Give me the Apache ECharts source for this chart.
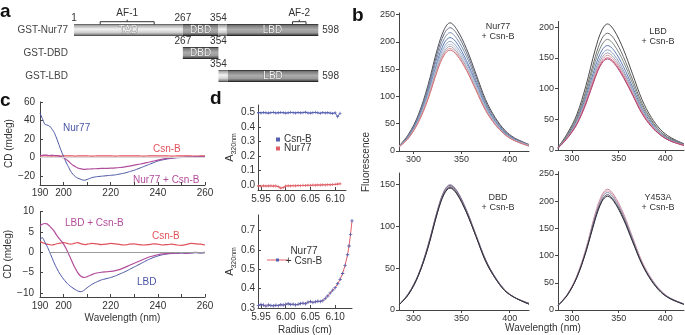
<!DOCTYPE html>
<html><head><meta charset="utf-8">
<script src="https://cdn.jsdelivr.net/npm/echarts@6/dist/echarts.min.js"></script>
<style>html,body{margin:0;padding:0;background:#fff}#c{width:685px;height:335px}</style>
</head><body><div id="c"></div><script>
// ---------------- DATA ----------------
// panel a : constructs
const constructNames = ['GST-Nur77', 'GST-DBD', 'GST-LBD'];
// [start, row, end, kind, label]
const domainSegments = [
  [1, 0, 267, 'light', 'TAD'],
  [267, 0, 354, 'dark', 'DBD'],
  [354, 0, 374, 'light', ''],
  [374, 0, 598, 'dark', 'LBD'],
  [267, 1, 354, 'dark', 'DBD'],
  [354, 2, 377, 'light', ''],
  [377, 2, 598, 'dark', 'LBD']
];
// [residue, row, side(0 above,1 right)]
const residueMarks = [[1,0,0],[267,0,0],[354,0,0],[598,0,1],[267,1,0],[354,1,0],[354,2,0],[598,2,1]];
const afNames = ['AF-1', 'AF-2'];
const afRegions = [[65, 0, 197], [535, 0, 568]];

// panel b : fluorescence spectra
const bWave = [285,295,305,315,325,332,338,345,355,365,375,385,395,405,420];
const nurCsnCurves = [
  [9,31,66,120,188,223,235,223,188,141,94,61,38,24,12],
  [9,29,63,115,181,215,226,215,181,136,90,59,36,23,11],
  [9,28,61,111,174,206,217,206,174,130,87,56,35,22,11],
  [8,27,58,106,166,198,208,198,166,125,83,54,33,21,10],
  [8,26,56,103,161,191,201,191,161,121,80,52,32,20,10],
  [8,25,55,100,157,186,196,186,157,118,78,51,31,20,10],
  [8,25,54,98,154,182,192,182,154,115,77,50,31,19,10],
  [8,24,53,96,150,179,188,179,150,113,75,49,30,19,9],
  [7,24,52,94,148,176,185,176,148,111,74,48,30,19,9]
];
const nurCsnColors = ['#4b4b55','#686d80','#7889a6','#5d7db6','#8fa6cb','#bac6da','#a7a7b3','#d9a3a8','#d2727a'];
const lbdCsnCurves = [
  [4,27,57,105,164,195,205,195,164,123,82,53,33,21,10],
  [4,25,53,97,152,181,190,181,152,114,76,49,30,19,10],
  [4,23,50,92,144,171,180,171,144,108,72,47,29,18,9],
  [3,22,48,87,136,162,170,162,136,102,68,44,27,17,9],
  [3,21,46,83,130,155,163,155,130,98,65,42,26,16,8],
  [3,21,44,81,126,150,158,150,126,95,63,41,25,16,8],
  [3,20,43,79,123,146,154,146,123,92,62,40,25,15,8],
  [3,20,42,77,120,143,150,143,120,90,60,39,24,15,8],
  [3,19,41,75,118,141,148,141,118,89,59,38,24,15,7]
];
const lbdCsnColors = ['#4a4a4a','#6e6e6e','#7a8a82','#5f78b0','#8d9fc4','#9ca2b2','#d89aa8','#cc5f78','#b04a7a'];
const dbdCsnCurves = [
  [6,20,42,77,120,143,150,143,120,90,60,39,24,15,8],
  [6,20,42,76,119,142,149,142,119,89,60,39,24,15,8],
  [6,19,41,75,118,141,148,141,118,89,59,38,24,15,7],
  [6,19,41,75,117,140,147,140,117,88,59,38,23,15,7],
  [6,19,41,74,117,139,146,139,117,88,58,38,23,15,7]
];
const dbdCsnColors = ['#8a7a9a','#6a5f80','#b49ab0','#5b5570','#2f2f35'];
const y453aCsnCurves = [
  [9,29,62,113,178,211,222,211,178,133,89,58,36,22,11],
  [9,28,61,112,175,208,219,208,175,131,88,57,35,22,11],
  [9,28,60,110,173,205,216,205,173,130,86,56,35,22,11],
  [8,28,59,108,170,201,212,201,170,127,85,55,34,21,11],
  [8,27,59,107,167,199,209,199,167,125,84,54,33,21,10]
];
const y453aCsnColors = ['#c98aa0','#dba5b4','#8a8fa8','#55556a','#2e2e38'];

// panel c : CD spectra
const cWave = [190,191,192,193,194,195,196,197,198,199,200,201,202,203,204,205,206,207,208,209,210,212,214,216,218,220,222,224,226,228,230,232,234,236,238,240,242,244,246,248,250,252,254,256,258,260];
const cdNur77 = [48,42,36,35,34,31,27,21,14,7,1,-5,-10,-15,-18.5,-21,-22.5,-23.5,-24.5,-24.8,-24,-22,-21,-20.5,-20,-19.5,-19,-18,-17,-15.5,-14,-12,-10,-8,-6,-4,-2.8,-1.8,-1,-0.5,-0.2,0,0,0.2,0.3,0.3];
const cdNur77CsnB = [2,2.2,2.5,2.3,2,2.2,2,1.8,1.5,0.5,-0.5,-2,-4,-6.5,-8.5,-10,-11.5,-12.3,-12.8,-13,-12.8,-12.5,-12.3,-12,-12,-11.8,-11.5,-11,-10.3,-9.5,-8.5,-7.5,-6.5,-5.3,-4.2,-3,-2,-1.2,-0.6,-0.2,0,0.2,0.3,0.5,0.5,0.6];
const cdCsnBTop = [1.5,1.6,1.8,1.6,1.5,1.4,1.6,1.5,1.5,1.4,1.6,1.5,1.5,1.6,1.5,1.4,1.5,1.5,1.6,1.5,1.5,1.4,1.5,1.6,1.5,1.5,1.4,1.5,1.5,1.6,1.5,1.5,1.4,1.5,1.5,1.6,1.5,1.5,1.4,1.5,1.5,1.6,1.5,1.4,1.5,1.5];
const cdLBD = [3.2,3.6,2.6,1.5,0.2,-1.2,-2.6,-3.8,-4.9,-5.8,-6.6,-7.3,-7.9,-8.4,-8.8,-9.2,-9.5,-9.7,-9.6,-9.2,-8.7,-7.9,-7.3,-6.8,-6.5,-6.2,-5.8,-5.3,-4.8,-4.2,-3.6,-3.0,-2.4,-1.8,-1.3,-0.9,-0.6,-0.4,-0.3,-0.3,-0.2,-0.3,-0.2,-0.1,-0.2,-0.1];
const cdLBDCsnB = [6.5,6.9,7.1,7.0,6.5,5.9,5.2,4.3,3.5,2.8,2.0,1.0,-0.2,-1.5,-2.8,-4.0,-5.0,-5.7,-6.1,-6.2,-6.0,-5.5,-5.1,-4.9,-4.8,-4.7,-4.5,-4.2,-3.7,-3.2,-2.7,-2.2,-1.7,-1.2,-0.9,-0.6,-0.4,-0.3,-0.2,-0.2,-0.1,-0.2,-0.1,0,-0.1,0];
const cdCsnBBottom = [2.6,2.4,2.2,2.0,1.9,1.8,1.9,2.1,2.2,2.3,2.4,2.3,2.1,2.0,2.1,2.3,2.4,2.2,2.0,1.9,2.0,2.2,2.1,1.9,2.0,2.2,2.1,1.9,1.8,2.0,2.1,1.9,1.8,1.9,2.1,2.0,1.8,1.9,2.0,1.8,1.7,1.9,2.2,2.1,2.0,1.8];

// panel d : sedimentation equilibrium
const dTopRadius = [5.930,5.935,5.940,5.945,5.950,5.955,5.960,5.965,5.970,5.975,5.980,5.985,5.990,5.995,6.000,6.005,6.010,6.015,6.020,6.025,6.030,6.035,6.040,6.045,6.050,6.055,6.060,6.065,6.070,6.075,6.080,6.085,6.090,6.095,6.100,6.105,6.110];
const dCsnB = [0.497,0.499,0.496,0.500,0.498,0.501,0.499,0.497,0.500,0.502,0.498,0.499,0.501,0.500,0.497,0.499,0.502,0.500,0.498,0.501,0.499,0.500,0.503,0.498,0.497,0.500,0.502,0.499,0.496,0.501,0.498,0.500,0.497,0.495,0.499,0.472,0.496];
const dNur77 = [0.000,-0.006,-0.008,-0.007,-0.009,-0.006,-0.008,-0.007,-0.006,-0.008,-0.007,-0.012,-0.022,-0.018,-0.008,-0.006,-0.007,-0.005,-0.006,-0.004,-0.005,-0.003,-0.004,-0.002,-0.003,-0.001,-0.002,0.000,-0.001,0.001,0.000,0.002,0.001,0.003,0.004,0.006,0.008];
const dBottomRadius = [5.945,5.950,5.955,5.960,5.965,5.970,5.975,5.980,5.985,5.990,5.995,6.000,6.005,6.010,6.015,6.020,6.025,6.030,6.035,6.040,6.045,6.050,6.055,6.060,6.065,6.070,6.075,6.080,6.085,6.090,6.095,6.100,6.105,6.110,6.115,6.120,6.125,6.128,6.131,6.134];
const dNur77CsnB = [0.312,0.318,0.315,0.310,0.316,0.313,0.311,0.314,0.312,0.317,0.315,0.319,0.322,0.318,0.320,0.316,0.319,0.323,0.325,0.322,0.330,0.333,0.329,0.332,0.335,0.334,0.338,0.350,0.362,0.378,0.392,0.405,0.425,0.448,0.478,0.520,0.575,0.620,0.680,0.750];

// axis tick labels
const bTicksX = [300, 350, 400];
const cTicksX = [190, 200, 220, 240, 260];
const cTicksXMinor = [190, 200, 210, 220, 230, 240, 250, 260];
const cTopTicksY = [-30, -20, 0, 20, 40, 60];
const cBotTicksY = [-10, -5, 0, 5, 10];
const dTicksX = [5.95, 6.00, 6.05, 6.10];
const dTopTicksY = [0.0, 0.1, 0.2, 0.3, 0.4, 0.5];
const dBotTicksY = [0.3, 0.4, 0.5, 0.6, 0.7];

// ---------------- CHART ----------------
const FONT = "'Liberation Sans Narrow','Liberation Sans',Arial,sans-serif";
const TXT = '#333';
const AX = '#444';
const chart = echarts.init(document.getElementById('c'), null, {renderer: 'canvas', width: 685, height: 335});

const LIGHT = new echarts.graphic.LinearGradient(0, 0, 0, 1, [
  {offset: 0, color: '#4a4a4a'}, {offset: 0.12, color: '#a8a8a8'}, {offset: 0.42, color: '#f2f2f2'},
  {offset: 0.7, color: '#d2d2d2'}, {offset: 0.88, color: '#8e8e8e'}, {offset: 1, color: '#3a3a3a'}]);
const DARK = new echarts.graphic.LinearGradient(0, 0, 0, 1, [
  {offset: 0, color: '#1e1e1e'}, {offset: 0.13, color: '#7a7a7a'}, {offset: 0.45, color: '#ababab'},
  {offset: 0.72, color: '#9b9b9b'}, {offset: 0.88, color: '#5c5c5c'}, {offset: 1, color: '#111'}]);

function gridAt(l, t, w, h) { return {left: l, top: t, width: w, height: h, outerBoundsMode: 'none', containLabel: false}; }

function axis(gi, min, max, labels, o) {
  o = o || {};
  return {
    type: 'value', gridIndex: gi, min: min, max: max, show: o.show !== false,
    name: o.name || '', nameLocation: 'middle', nameGap: o.nameGap || 20, nameRotate: o.rotate || 0,
    nameTextStyle: o.nameStyle || {fontFamily: FONT, fontSize: o.nameSize || 10, color: TXT},
    axisLine: {show: true, onZero: false, lineStyle: {color: AX, width: 1}},
    axisTick: {show: true, inside: !!o.inside, length: 3, customValues: o.ticks || labels, lineStyle: {color: AX}},
    axisLabel: {customValues: labels, fontFamily: FONT, fontSize: o.size || 9, color: TXT, margin: o.margin || 4,
      formatter: o.fmt || (v => String(v))},
    splitLine: {show: false}
  };
}
const minus = v => String(v).replace('-', '\u2212');

const grids = [
  gridAt(74, 18.5, 244.3, 69),  // a
  gridAt(40, 102, 165, 83),     // c top
  gridAt(40, 211.7, 165, 85.3), // c bottom
  gridAt(258, 105, 88, 85),     // d top
  gridAt(258, 215, 94, 93),     // d bottom
  gridAt(399, 13, 130, 138),    // b Nur77
  gridAt(558, 21.5, 126, 128.5),// b LBD
  gridAt(399, 173, 130, 137),   // b DBD
  gridAt(558, 171.7, 126, 138.3)// b Y453A
];

const xAxes = [
  {type: 'value', gridIndex: 0, min: 1, max: 598, show: false},
  axis(1, 190, 260, cTicksX, {inside: true, ticks: cTicksXMinor, size: 10, margin: 3}),
  axis(2, 190, 260, cTicksX, {inside: true, ticks: cTicksXMinor, size: 10, margin: 4, name: 'Wavelength (nm)', nameGap: 16}),
  axis(3, 5.944, 6.122, dTicksX, {inside: true, size: 10, margin: 4, fmt: v => v.toFixed(2)}),
  axis(4, 5.944, 6.134, dTicksX, {inside: true, size: 10, margin: 4, fmt: v => v.toFixed(2), name: 'Radius (cm)', nameGap: 17}),
  axis(5, 285, 420, bTicksX, {margin: 4}),
  axis(6, 285, 420, bTicksX, {margin: 4}),
  axis(7, 285, 420, bTicksX, {margin: 4}),
  axis(8, 285, 420, bTicksX, {margin: 4})
];
const yAxes = [
  {type: 'category', gridIndex: 0, data: constructNames, inverse: true,
   axisLine: {show: false}, axisTick: {show: false}, splitLine: {show: false},
   axisLabel: {fontFamily: FONT, fontSize: 10, color: '#444', margin: 6}},
  axis(1, -30, 60, cTopTicksY, {inside: true, size: 10, margin: 5, fmt: minus, name: 'CD (mdeg)', nameGap: 22, rotate: 90}),
  axis(2, -11, 10, cBotTicksY, {inside: true, size: 10, margin: 6, fmt: minus, name: 'CD (mdeg)', nameGap: 20, rotate: 90}),
  axis(3, -0.035, 0.553, dTopTicksY, {inside: true, size: 10, margin: 3, fmt: v => v.toFixed(1), rotate: 90,
    name: '{a|A}{s|320nm}', nameGap: 19,
    nameStyle: {fontFamily: FONT, color: TXT, rich: {a: {fontSize: 11, fontFamily: FONT, color: TXT, lineHeight: 14}, s: {fontSize: 7, fontFamily: FONT, color: TXT, lineHeight: 14, verticalAlign: 'bottom', padding: [5, 0, 0, 0]}}}}),
  axis(4, 0.3, 0.78, dBotTicksY, {inside: true, size: 10, margin: 3, fmt: v => v.toFixed(1), rotate: 90,
    name: '{a|A}{s|320nm}', nameGap: 19,
    nameStyle: {fontFamily: FONT, color: TXT, rich: {a: {fontSize: 11, fontFamily: FONT, color: TXT, lineHeight: 14}, s: {fontSize: 7, fontFamily: FONT, color: TXT, lineHeight: 14, verticalAlign: 'bottom', padding: [5, 0, 0, 0]}}}}),
  axis(5, 0, 253, [0, 50, 100, 150, 200, 250], {margin: 4}),
  axis(6, 0, 209, [0, 50, 100, 150, 200], {margin: 4}),
  axis(7, 0, 164, [0, 50, 100, 150], {margin: 4}),
  axis(8, 0, 254, [0, 50, 100, 150, 200, 250], {margin: 4})
];

const series = [];
// ---- panel a
series.push({
  type: 'custom', xAxisIndex: 0, yAxisIndex: 0, silent: true,
  encode: {x: [0, 2], y: 1},
  data: domainSegments.map(s => [s[0], s[1], s[2]]),
  renderItem: function (params, api) {
    const seg = domainSegments[params.dataIndex];
    const a = api.coord([api.value(0), api.value(1)]);
    const b = api.coord([api.value(2), api.value(1)]);
    const h = 12;
    const ch = [{type: 'rect', shape: {x: a[0], y: a[1] - h / 2, width: b[0] - a[0], height: h},
      style: {fill: seg[3] === 'light' ? LIGHT : DARK}}];
    if (seg[4]) ch.push({type: 'text', x: (a[0] + b[0]) / 2, y: a[1] + 0.5,
      style: {text: seg[4], align: 'center', verticalAlign: 'middle', textAlign: 'center', textVerticalAlign: 'middle',
        fill: '#f2f2f2', stroke: '#6a6a6a', lineWidth: 0.6, fontSize: 10, fontFamily: FONT}});
    return {type: 'group', children: ch};
  }
});
series.push({
  type: 'custom', xAxisIndex: 0, yAxisIndex: 0, silent: true,
  encode: {x: 0, y: 1},
  data: residueMarks,
  renderItem: function (params, api) {
    const p = api.coord([api.value(0), api.value(1)]);
    const right = api.value(2) === 1;
    return {type: 'text', x: right ? p[0] + 4 : p[0], y: right ? p[1] : p[1] - 11.5,
      style: {text: String(api.value(0)), align: right ? 'left' : 'center', verticalAlign: 'middle',
        textAlign: right ? 'left' : 'center', textVerticalAlign: 'middle', fill: '#333', fontSize: 10, fontFamily: FONT}};
  }
});
series.push({
  type: 'custom', xAxisIndex: 0, yAxisIndex: 0, silent: true,
  encode: {x: [0, 2], y: 1},
  data: afRegions,
  renderItem: function (params, api) {
    const a = api.coord([api.value(0), api.value(1)]);
    const b = api.coord([api.value(2), api.value(1)]);
    const yb = a[1] - 8.3, mid = (a[0] + b[0]) / 2;
    return {type: 'group', children: [
      {type: 'polyline', shape: {points: [[a[0], yb + 2.8], [a[0], yb], [b[0], yb], [b[0], yb + 2.8]]},
        style: {stroke: '#333', lineWidth: 1, fill: null}},
      {type: 'line', shape: {x1: mid, y1: yb, x2: mid, y2: yb - 2}, style: {stroke: '#333', lineWidth: 1}},
      {type: 'text', x: mid, y: yb - 8.5, style: {text: afNames[params.dataIndex], align: 'center', verticalAlign: 'middle',
        textAlign: 'center', textVerticalAlign: 'middle', fill: '#333', fontSize: 10, fontFamily: FONT}}
    ]};
  }
});

function pairs(xs, ys) { return xs.map((x, i) => [x, ys[i]]); }
function cdLine(gi, ys, color, w, extra) {
  return Object.assign({type: 'line', xAxisIndex: gi, yAxisIndex: gi, data: pairs(cWave, ys), showSymbol: false, symbol: 'none',
    smooth: 0.2, lineStyle: {color: color, width: w || 1.2}, itemStyle: {color: color}, silent: true, z: 3}, extra || {});
}
const BLUE = '#4b55a6', MAG = '#b24d9c', RED = '#e2525c';
const PLUS = 'path://M0.38,0H0.62V0.38H1V0.62H0.62V1H0.38V0.62H0V0.38H0.38Z';
// ---- panel c
series.push(cdLine(1, cdCsnBTop, RED, 1.2, {markLine: {silent: true, symbol: 'none', label: {show: false},
  lineStyle: {color: '#d8d8d8', width: 1, type: 'solid'}, data: [{yAxis: 0}]}}));
series.push(cdLine(1, cdNur77, BLUE, 1));
series.push(cdLine(1, cdNur77CsnB, MAG, 1.2));
series.push(cdLine(2, cdCsnBBottom, RED, 1.2, {markLine: {silent: true, symbol: 'none', label: {show: false},
  lineStyle: {color: '#9a9a9a', width: 1, type: 'solid'}, data: [[{coord: [194, 0]}, {coord: [260, 0]}]]}}));
series.push(cdLine(2, cdLBD, BLUE, 1));
series.push(cdLine(2, cdLBDCsnB, MAG, 1.2));

// ---- panel d
series.push({type: 'line', xAxisIndex: 3, yAxisIndex: 3, data: pairs(dTopRadius, dCsnB), symbol: PLUS, symbolSize: 3,
  lineStyle: {color: '#5560b0', width: 1}, itemStyle: {color: '#5560b0'}, silent: true});
series.push({type: 'line', xAxisIndex: 3, yAxisIndex: 3, data: pairs(dTopRadius, dNur77), symbol: PLUS, symbolSize: 3,
  lineStyle: {color: '#e06068', width: 1}, itemStyle: {color: '#e06068'}, silent: true});
series.push({type: 'line', xAxisIndex: 4, yAxisIndex: 4, data: pairs(dBottomRadius, dNur77CsnB), symbol: PLUS, symbolSize: 3.5,
  lineStyle: {color: '#e06068', width: 1}, itemStyle: {color: '#5560b0'}, silent: true});

// ---- panel b
function spectra(gi, curves, colors) {
  curves.forEach((c, i) => series.push({type: 'line', xAxisIndex: gi, yAxisIndex: gi, data: pairs(bWave, c),
    showSymbol: false, symbol: 'none', smooth: 0.35, lineStyle: {color: colors[i], width: 1}, silent: true, z: 3 + i}));
}
spectra(5, nurCsnCurves, nurCsnColors);
spectra(6, lbdCsnCurves, lbdCsnColors);
spectra(7, dbdCsnCurves, dbdCsnColors);
spectra(8, y453aCsnCurves, y453aCsnColors);

function txt(x, y, text, o) {
  o = o || {};
  return {type: 'text', x: x, y: y, rotation: o.rot || 0, silent: true,
    style: {text: text, fill: o.color || TXT, fontSize: o.size || 10, fontWeight: o.bold ? 'bold' : 'normal',
      fontFamily: o.family || FONT, align: o.align || 'left', verticalAlign: 'middle',
      textAlign: o.align || 'left', textVerticalAlign: 'middle', lineHeight: o.lh || 10}};
}
const LETTER = {size: 19, bold: true, family: "'Liberation Sans',Arial,sans-serif", color: '#111'};
const graphic = [
  txt(0, 11.7, 'a', LETTER), txt(352, 15.7, 'b', LETTER), txt(0, 100.7, 'c', LETTER), txt(210, 98.7, 'd', LETTER),
  // panel b annotations
  txt(498, 32, 'Nur77\n+ Csn-B', {align: 'center', size: 9}),
  txt(658, 37, 'LBD\n+ Csn-B', {align: 'center', size: 9}),
  txt(498, 203, 'DBD\n+ Csn-B', {align: 'center', size: 9}),
  txt(658, 203, 'Y453A\n+ Csn-B', {align: 'center', size: 9}),
  txt(366, 162, 'Fluorescence', {align: 'center', rot: Math.PI / 2, size: 10}),
  txt(543, 328, 'Wavelength (nm)', {align: 'center', size: 10}),
  // panel c annotations
  txt(63, 128, 'Nur77', {color: BLUE}),
  txt(153, 149, 'Csn-B', {color: RED}),
  txt(133, 180, 'Nur77 + Csn-B', {color: MAG}),
  txt(65, 223, 'LBD + Csn-B', {color: MAG}),
  txt(152, 236, 'Csn-B', {color: RED}),
  txt(137, 282, 'LBD', {color: BLUE}),
  // panel d legends
  {type: 'rect', shape: {x: 276, y: 137.5, width: 4, height: 4}, style: {fill: '#5560b0'}, silent: true},
  txt(284, 139.5, 'Csn-B', {size: 10}),
  {type: 'rect', shape: {x: 276, y: 146.5, width: 4, height: 4}, style: {fill: '#e06068'}, silent: true},
  txt(284, 148.5, 'Nur77', {size: 10}),
  {type: 'line', shape: {x1: 267, y1: 260, x2: 288, y2: 260}, style: {stroke: '#e06068', lineWidth: 1}, silent: true},
  {type: 'rect', shape: {x: 276, y: 258.5, width: 3, height: 3}, style: {fill: '#5560b0'}, silent: true},
  txt(304, 251, 'Nur77', {align: 'center', size: 10}),
  txt(304, 261, '+ Csn-B', {align: 'center', size: 10})
];

chart.setOption({
  animation: false,
  backgroundColor: '#fff',
  grid: grids, xAxis: xAxes, yAxis: yAxes, series: series, graphic: graphic
});
</script></body></html>
